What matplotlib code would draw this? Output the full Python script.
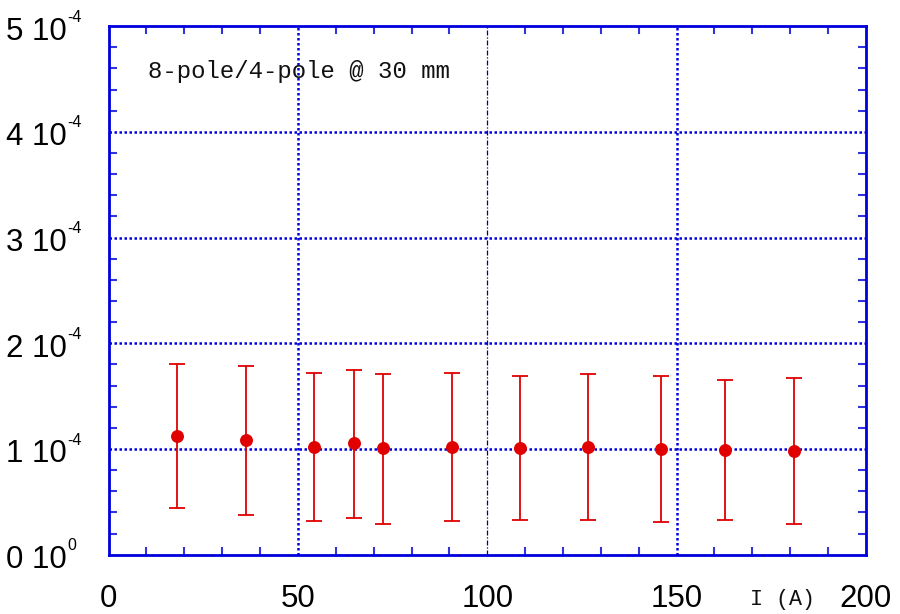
import matplotlib
matplotlib.use("Agg")
import matplotlib.pyplot as plt
from matplotlib.ticker import MultipleLocator, FixedLocator, FixedFormatter, NullFormatter

# Data (current in A, ratio 8-pole/4-pole at 30 mm)
current = [18.2, 36.3, 54.3, 64.7, 72.4, 90.6, 108.7, 126.7, 146.0, 162.9, 181.0]
ratio = [1.123e-4, 1.085e-4, 1.019e-4, 1.054e-4, 1.009e-4, 1.019e-4,
         1.007e-4, 1.019e-4, 1.003e-4, 0.988e-4, 0.981e-4]
err_top = [1.801e-4, 1.788e-4, 1.719e-4, 1.750e-4, 1.712e-4, 1.719e-4,
           1.688e-4, 1.712e-4, 1.693e-4, 1.650e-4, 1.669e-4]
err_bot = [0.439e-4, 0.376e-4, 0.319e-4, 0.350e-4, 0.293e-4, 0.316e-4,
           0.328e-4, 0.328e-4, 0.309e-4, 0.331e-4, 0.293e-4]

x_ticks = [0, 50, 100, 150, 200]
x_tick_labels = ['0', '50', '100', '150', '200']
y_ticks = [0, 1e-4, 2e-4, 3e-4, 4e-4, 5e-4]
y_tick_mantissa = ['0 10', '1 10', '2 10', '3 10', '4 10', '5 10']
y_tick_exponent = ['0', '-4', '-4', '-4', '-4', '-4']

fig = plt.figure(figsize=(9, 6.14), dpi=100)
ax = fig.add_axes([0.1206, 0.0966, 0.9622 - 0.1206, 0.9573 - 0.0966])

blue = '#0000dd'
tickblue = '#3333dd'
red = '#e00000'

ax.set_xlim(0, 200)
ax.set_ylim(0, 5e-4)

# grid lines
for xv in [50, 150]:
    ax.axvline(xv, color=blue, lw=1.8, ls=(0, (1, 1)), zorder=1)
ax.axvline(100, color='#000080', lw=0.9, ls=(0, (4, 1.5, 1, 1.5)), zorder=1)
for yv in [1e-4, 2e-4, 3e-4, 4e-4]:
    ax.axhline(yv, color=blue, lw=1.8, ls=(0, (1, 1)), zorder=1)

lower = [r - b for r, b in zip(ratio, err_bot)]
upper = [t - r for r, t in zip(ratio, err_top)]
ax.errorbar(current, ratio, yerr=[lower, upper], fmt='o', color=red, ecolor=red,
            elinewidth=1.3, capsize=5.5, capthick=1.3, markersize=8.3, zorder=3)

for s in ax.spines.values():
    s.set_color(blue)
    s.set_linewidth(2)

ax.xaxis.set_major_locator(FixedLocator(x_ticks))
ax.xaxis.set_major_formatter(FixedFormatter(x_tick_labels))
ax.yaxis.set_major_locator(FixedLocator(y_ticks))
ax.yaxis.set_major_formatter(NullFormatter())
ax.xaxis.set_minor_locator(MultipleLocator(10))
ax.yaxis.set_minor_locator(MultipleLocator(0.2e-4))

ax.tick_params(which='both', direction='in', top=True, right=True, color=tickblue)
ax.tick_params(which='major', length=0, width=1.5)
ax.tick_params(which='minor', length=5.8, width=1.5)
ax.tick_params(axis='x', which='major', pad=21, labelsize=22.5)
for lab in ax.get_xticklabels():
    lab.set_fontfamily('Liberation Sans')

# y tick labels: mantissa + raised exponent
for yv, mant, expo in zip(y_ticks, y_tick_mantissa, y_tick_exponent):
    ax.annotate(mant, xy=(0, yv), xycoords=('axes fraction', 'data'),
                xytext=(-30.1, -9.7), textcoords='offset points',
                ha='right', va='baseline', family='Liberation Sans',
                fontsize=22.5, color='black', annotation_clip=False)
    ax.annotate(expo, xy=(0, yv), xycoords=('axes fraction', 'data'),
                xytext=(-29.4, 3.2), textcoords='offset points',
                ha='left', va='baseline', family='Liberation Sans',
                fontsize=11.5, color='black', annotation_clip=False)

ax.text(0.052, 0.915, '8-pole/4-pole @ 30 mm', transform=ax.transAxes,
        family='Liberation Mono', fontsize=17.3, color='#111111', va='center', ha='left')
ax.text(178, -0.085, 'I (A)', transform=ax.get_xaxis_transform(),
        family='Liberation Mono', fontsize=15.6, color='#111111', va='center', ha='center')

fig.savefig('out.png', dpi=100)
